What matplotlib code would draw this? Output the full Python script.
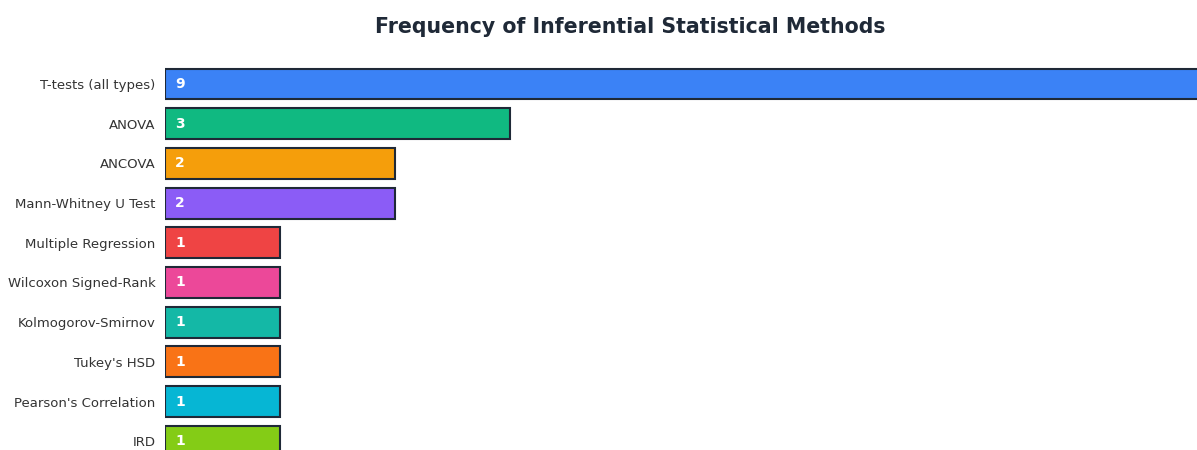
import numpy as np
import matplotlib
matplotlib.use("Agg")
import matplotlib.pyplot as plt

plt.rcParams['font.family'] = ['DejaVu Sans']

methods = ["T-tests (all types)", "ANOVA", "ANCOVA", "Mann-Whitney U Test",
           "Multiple Regression", "Wilcoxon Signed-Rank", "Kolmogorov-Smirnov",
           "Tukey's HSD", "Pearson's Correlation", "IRD"]
counts = [9, 3, 2, 2, 1, 1, 1, 1, 1, 1]
colors = ["#3b82f6", "#10b981", "#f59e0b", "#8b5cf6", "#ef4444",
          "#ec4899", "#14b8a6", "#f97316", "#06b6d4", "#84cc16"]

W, H = 1197, 450
fig = plt.figure(figsize=(W / 100, H / 100), dpi=100)
left = 165 / W
ax = fig.add_axes([left, 0, 1 - left, 1])

pos = np.arange(len(methods))
ax.barh(pos, counts, height=0.78, color=colors, edgecolor="#1f2937", linewidth=1.5)

# y: first bar centre at 84px, step ~39.7px
step = 39.7
ax.set_ylim((H - 84) / step, -84 / step)
ax.set_xlim(0, (W - 165) / 115)

for i, v in enumerate(counts):
    ax.text(0.09, i, str(v), color="white", fontsize=10, fontweight="bold",
            va="center", ha="left")

ax.set_yticks(pos)
ax.set_yticklabels(methods, fontsize=9.5, color="#333333")
ax.tick_params(axis="y", length=0, pad=7)
ax.set_xticks([])
for s in ax.spines.values():
    s.set_visible(False)

fig.text(630 / W, 1 - 27 / H, "Frequency of Inferential Statistical Methods",
         ha="center", va="center", fontsize=14.8, fontweight="bold", color="#1f2937")

fig.savefig("out.png", dpi=100)
